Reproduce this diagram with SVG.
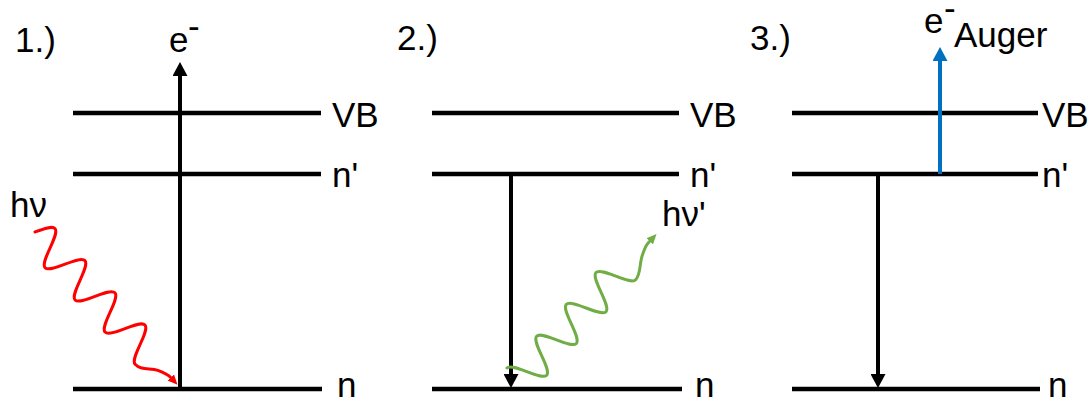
<svg xmlns="http://www.w3.org/2000/svg" width="1091" height="400" viewBox="0 0 1091 400">
<style>
text{font-family:"Liberation Sans",Arial,sans-serif;font-size:35px;fill:#000}
.lvl{stroke:#000;stroke-width:4.5;fill:none}
.arr{stroke:#000;stroke-width:4;fill:none}
.wave{fill:none;stroke-width:3;stroke-linecap:round}
</style>
<defs>
<marker id="ahK" viewBox="0 -7.5 14 15" refX="0" refY="0" markerWidth="14" markerHeight="15" markerUnits="userSpaceOnUse" orient="auto"><path d="M0,-7.5 L14,0 L0,7.5 z" fill="#000"/></marker>
<marker id="ahB" viewBox="0 -7.5 14 15" refX="0" refY="0" markerWidth="14" markerHeight="15" markerUnits="userSpaceOnUse" orient="auto"><path d="M0,-7.5 L14,0 L0,7.5 z" fill="#0070C0"/></marker>
<marker id="ahR" viewBox="0 -4.5 10 9" refX="0" refY="0" markerWidth="10" markerHeight="9" markerUnits="userSpaceOnUse" orient="auto"><path d="M0,-4.5 L10,0 L0,4.5 z" fill="#FF0000"/></marker>
<marker id="ahG" viewBox="0 -4.5 10 9" refX="0" refY="0" markerWidth="10" markerHeight="9" markerUnits="userSpaceOnUse" orient="auto"><path d="M0,-4.5 L10,0 L0,4.5 z" fill="#70AD47"/></marker>
</defs>

<g id="panel1">
<text x="15" y="52">1.)</text>
<line class="lvl" x1="73" y1="113" x2="321" y2="113"/>
<line class="lvl" x1="73" y1="174" x2="321" y2="174"/>
<line class="lvl" x1="73" y1="389" x2="322" y2="389"/>
<text x="332" y="127">VB</text>
<text x="332" y="187">n'</text>
<text x="337" y="397">n</text>
<text x="169" y="52">e</text>
<text x="188" y="38" font-size="20">-</text>
<text x="10" y="217">hν</text>
</g>

<g id="panel2">
<text x="397" y="50">2.)</text>
<line class="lvl" x1="432" y1="113" x2="679" y2="113"/>
<line class="lvl" x1="432" y1="174" x2="679" y2="174"/>
<line class="lvl" x1="432" y1="389" x2="682" y2="389"/>
<text x="690" y="127">VB</text>
<text x="690" y="187">n'</text>
<text x="695" y="397">n</text>
<text x="662" y="226">hν'</text>
</g>

<g id="panel3">
<text x="750" y="50">3.)</text>
<line class="lvl" x1="792" y1="113" x2="1038" y2="113"/>
<line class="lvl" x1="792" y1="174" x2="1038" y2="174"/>
<line class="lvl" x1="792" y1="389" x2="1040" y2="389"/>
<text x="1042" y="127">VB</text>
<text x="1042" y="187">n'</text>
<text x="1048" y="397">n</text>
<text x="924" y="33">e</text>
<text x="944" y="20" font-size="20">-</text>
<text x="954" y="47" font-size="25">Auger</text>
</g>

<g id="connectors">
<line class="arr" x1="180" y1="389" x2="180" y2="76" marker-end="url(#ahK)"/>
<line class="arr" x1="511" y1="174" x2="511" y2="374" marker-end="url(#ahK)"/>
<line class="arr" x1="878" y1="174" x2="878" y2="374" marker-end="url(#ahK)"/>
<line x1="940" y1="174" x2="940" y2="61" stroke="#0070C0" stroke-width="4" marker-end="url(#ahB)"/>
<g transform="translate(35,232) rotate(47)">
<path class="wave" stroke="#FF0000" marker-end="url(#ahR)" d="M0,0 C3.6,-8.7 7,-17 11,-17 c8,0 14,34 22,34 s14,-34 22,-34 s14,34 22,34 s14,-34 22,-34 s14,34 22,34 s14,-34 22,-34 s14,34 22,34 C174,17 178,8 185,4.5 S195,0 199,0"/>
</g>
<g transform="translate(519.4,379.6) rotate(-47)">
<path class="wave" stroke="#70AD47" marker-end="url(#ahG)" d="M0,-17 c7.9,0 13.85,34 21.75,34 s13.85,-34 21.75,-34 s13.85,34 21.75,34 s13.85,-34 21.75,-34 s13.85,34 21.75,34 s13.85,-34 21.75,-34 s13.85,34 21.75,34 C160,17 166,9 175,5 S186,1 190,1"/>
</g>
</g>
</svg>
